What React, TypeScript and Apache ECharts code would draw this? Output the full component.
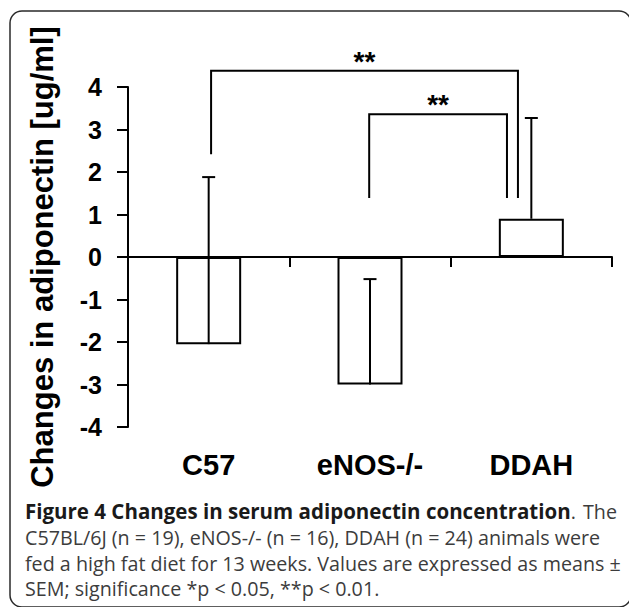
import React, { useEffect, useRef } from "react";
import * as echarts from "echarts";

// ---- data ----
const categories = ["C57", "eNOS-/-", "DDAH"];
const means = [-2.05, -3.0, 0.9];
const errorTops = [1.88, -0.52, 3.27]; // mean + SEM
const yMin = -4;
const yMax = 4;
const yInterval = 1;
const yAxisTitle = "Changes in adiponectin [ug/ml]";

// significance brackets (x in category units, y in ug/ml)
const bracketLeftX = [0.015, 0.995];
const bracketRightX = [1.917, 1.849];
const bracketLeftBottom = [2.42, 1.39];
const bracketRightBottom = [1.39, 1.39];
const bracketTop = [4.38, 3.36];
const bracketLabels = ["**", "**"];

const captionBold = "Figure 4 Changes in serum adiponectin concentration";
const captionLines = [
  ".",
  "C57BL/6J (n = 19), eNOS-/- (n = 16), DDAH (n = 24) animals were",
  "fed a high fat diet for 13 weeks. Values are expressed as means \u00b1",
  "SEM; significance *p < 0.05, **p < 0.01.",
];
const captionLine1End = "The";

const FONT = "'Liberation Sans', Arial, Helvetica, sans-serif";
const CAP_FONT = "'Open Sans', 'Noto Sans', sans-serif";

export default function App() {
  const ref = useRef<HTMLDivElement>(null);

  useEffect(() => {
    if (!ref.current) return;
    const chart = echarts.init(ref.current, undefined, { renderer: "svg" });

    const capY = [511, 537, 563, 588];
    const regular = { fontFamily: CAP_FONT, fontSize: 19.7, fill: "#3c3c3c" };
    const captionGraphics: any[] = [
      {
        type: "text",
        x: 25,
        y: capY[0],
        style: {
          text: `{b|${captionBold}}{r|${captionLines[0]}}`,
          verticalAlign: "middle",
          rich: {
            b: { fontFamily: CAP_FONT, fontSize: 20.5, fontWeight: "bold", fill: "#1a1a1a" },
            r: { fontFamily: CAP_FONT, fontSize: 19.7, fontWeight: "normal", fill: "#3c3c3c" },
          },
        },
      },
      {
        type: "text",
        x: 617,
        y: capY[0],
        style: { ...regular, text: captionLine1End, align: "right", verticalAlign: "middle" },
      },
      ...captionLines.slice(1).map((t, i) => ({
        type: "text",
        x: 25,
        y: capY[i + 1],
        style: { ...regular, text: t, verticalAlign: "middle" },
      })),
    ];

    chart.setOption({
      animation: false,
      backgroundColor: "#fff",
      grid: {
        left: 128,
        right: 17,
        top: 87,
        bottom: 180,
        containLabel: false,
        outerBoundsMode: "none",
      },
      xAxis: [
        {
          type: "category",
          data: categories,
          axisLine: { onZero: true, lineStyle: { color: "#000", width: 2 } },
          axisTick: { show: true, length: 10, lineStyle: { color: "#000", width: 2 } },
          axisLabel: {
            margin: 23,
            color: "#000",
            fontFamily: FONT,
            fontWeight: "bold",
            fontSize: 29,
          },
          splitLine: { show: false },
        },
        {
          type: "value",
          min: -0.5,
          max: 2.5,
          show: false,
          axisLine: { onZero: false },
          splitLine: { show: false },
        },
      ],
      yAxis: {
        type: "value",
        min: yMin,
        max: yMax,
        interval: yInterval,
        name: yAxisTitle,
        nameLocation: "middle",
        nameRotate: 90,
        nameGap: 70,
        nameTextStyle: {
          color: "#000",
          fontFamily: FONT,
          fontWeight: "bold",
          fontSize: 31,
        },
        axisLine: { show: true, onZero: false, lineStyle: { color: "#000", width: 2 } },
        axisTick: { show: true, length: 11, lineStyle: { color: "#000", width: 2 } },
        axisLabel: {
          margin: 26,
          color: "#000",
          fontFamily: FONT,
          fontWeight: "bold",
          fontSize: 25,
        },
        splitLine: { show: false },
      },
      series: [
        {
          type: "bar",
          data: means,
          barWidth: 65,
          itemStyle: { color: "#fff", borderColor: "#000", borderWidth: 2 },
          z: 2,
        },
        {
          type: "custom",
          xAxisIndex: 0,
          z: 3,
          data: categories.map((_, i) => [i, means[i], errorTops[i]]),
          encode: { x: 0, y: [1, 2] },
          renderItem: (params: any, api: any) => {
            const x = api.value(0);
            const p0 = api.coord([x, api.value(1)]);
            const p1 = api.coord([x, api.value(2)]);
            const st = { stroke: "#000", lineWidth: 2 };
            return {
              type: "group",
              children: [
                { type: "line", shape: { x1: p0[0], y1: p0[1], x2: p1[0], y2: p1[1] }, style: st },
                { type: "line", shape: { x1: p1[0] - 6.5, y1: p1[1], x2: p1[0] + 6.5, y2: p1[1] }, style: st },
              ],
            };
          },
        },
        {
          type: "custom",
          xAxisIndex: 1,
          z: 3,
          data: bracketLeftX.map((x0, i) => [
            x0,
            bracketRightX[i],
            bracketLeftBottom[i],
            bracketRightBottom[i],
            bracketTop[i],
          ]),
          encode: { x: [0, 1], y: [2, 3, 4] },
          renderItem: (params: any, api: any) => {
            const x0 = api.value(0);
            const x1 = api.value(1);
            const top = api.value(4);
            const a = api.coord([x0, api.value(2)]);
            const b = api.coord([x0, top]);
            const c = api.coord([x1, top]);
            const d = api.coord([x1, api.value(3)]);
            return {
              type: "group",
              children: [
                {
                  type: "polyline",
                  shape: { points: [a, b, c, d] },
                  style: { stroke: "#000", lineWidth: 2, fill: null },
                },
                {
                  type: "text",
                  x: (b[0] + c[0]) / 2,
                  y: b[1] - 9.5,
                  style: {
                    text: bracketLabels[params.dataIndex],
                    fill: "#000",
                    font: `bold 28px ${FONT}`,
                    align: "center",
                    verticalAlign: "middle",
                    textAlign: "center",
                    textVerticalAlign: "middle",
                  },
                },
              ],
            };
          },
        },
      ],
      graphic: [
        {
          type: "rect",
          shape: { x: 10, y: 11, width: 621, height: 596, r: 12 },
          style: { fill: "none", stroke: "#2a2a2a", lineWidth: 1.5 },
          z: -1,
        },
        ...captionGraphics,
      ],
    });

    return () => chart.dispose();
  }, []);

  return (
    <div
      ref={ref}
      style={{ position: "fixed", left: 0, top: 0, width: 629, height: 607 }}
    />
  );
}
